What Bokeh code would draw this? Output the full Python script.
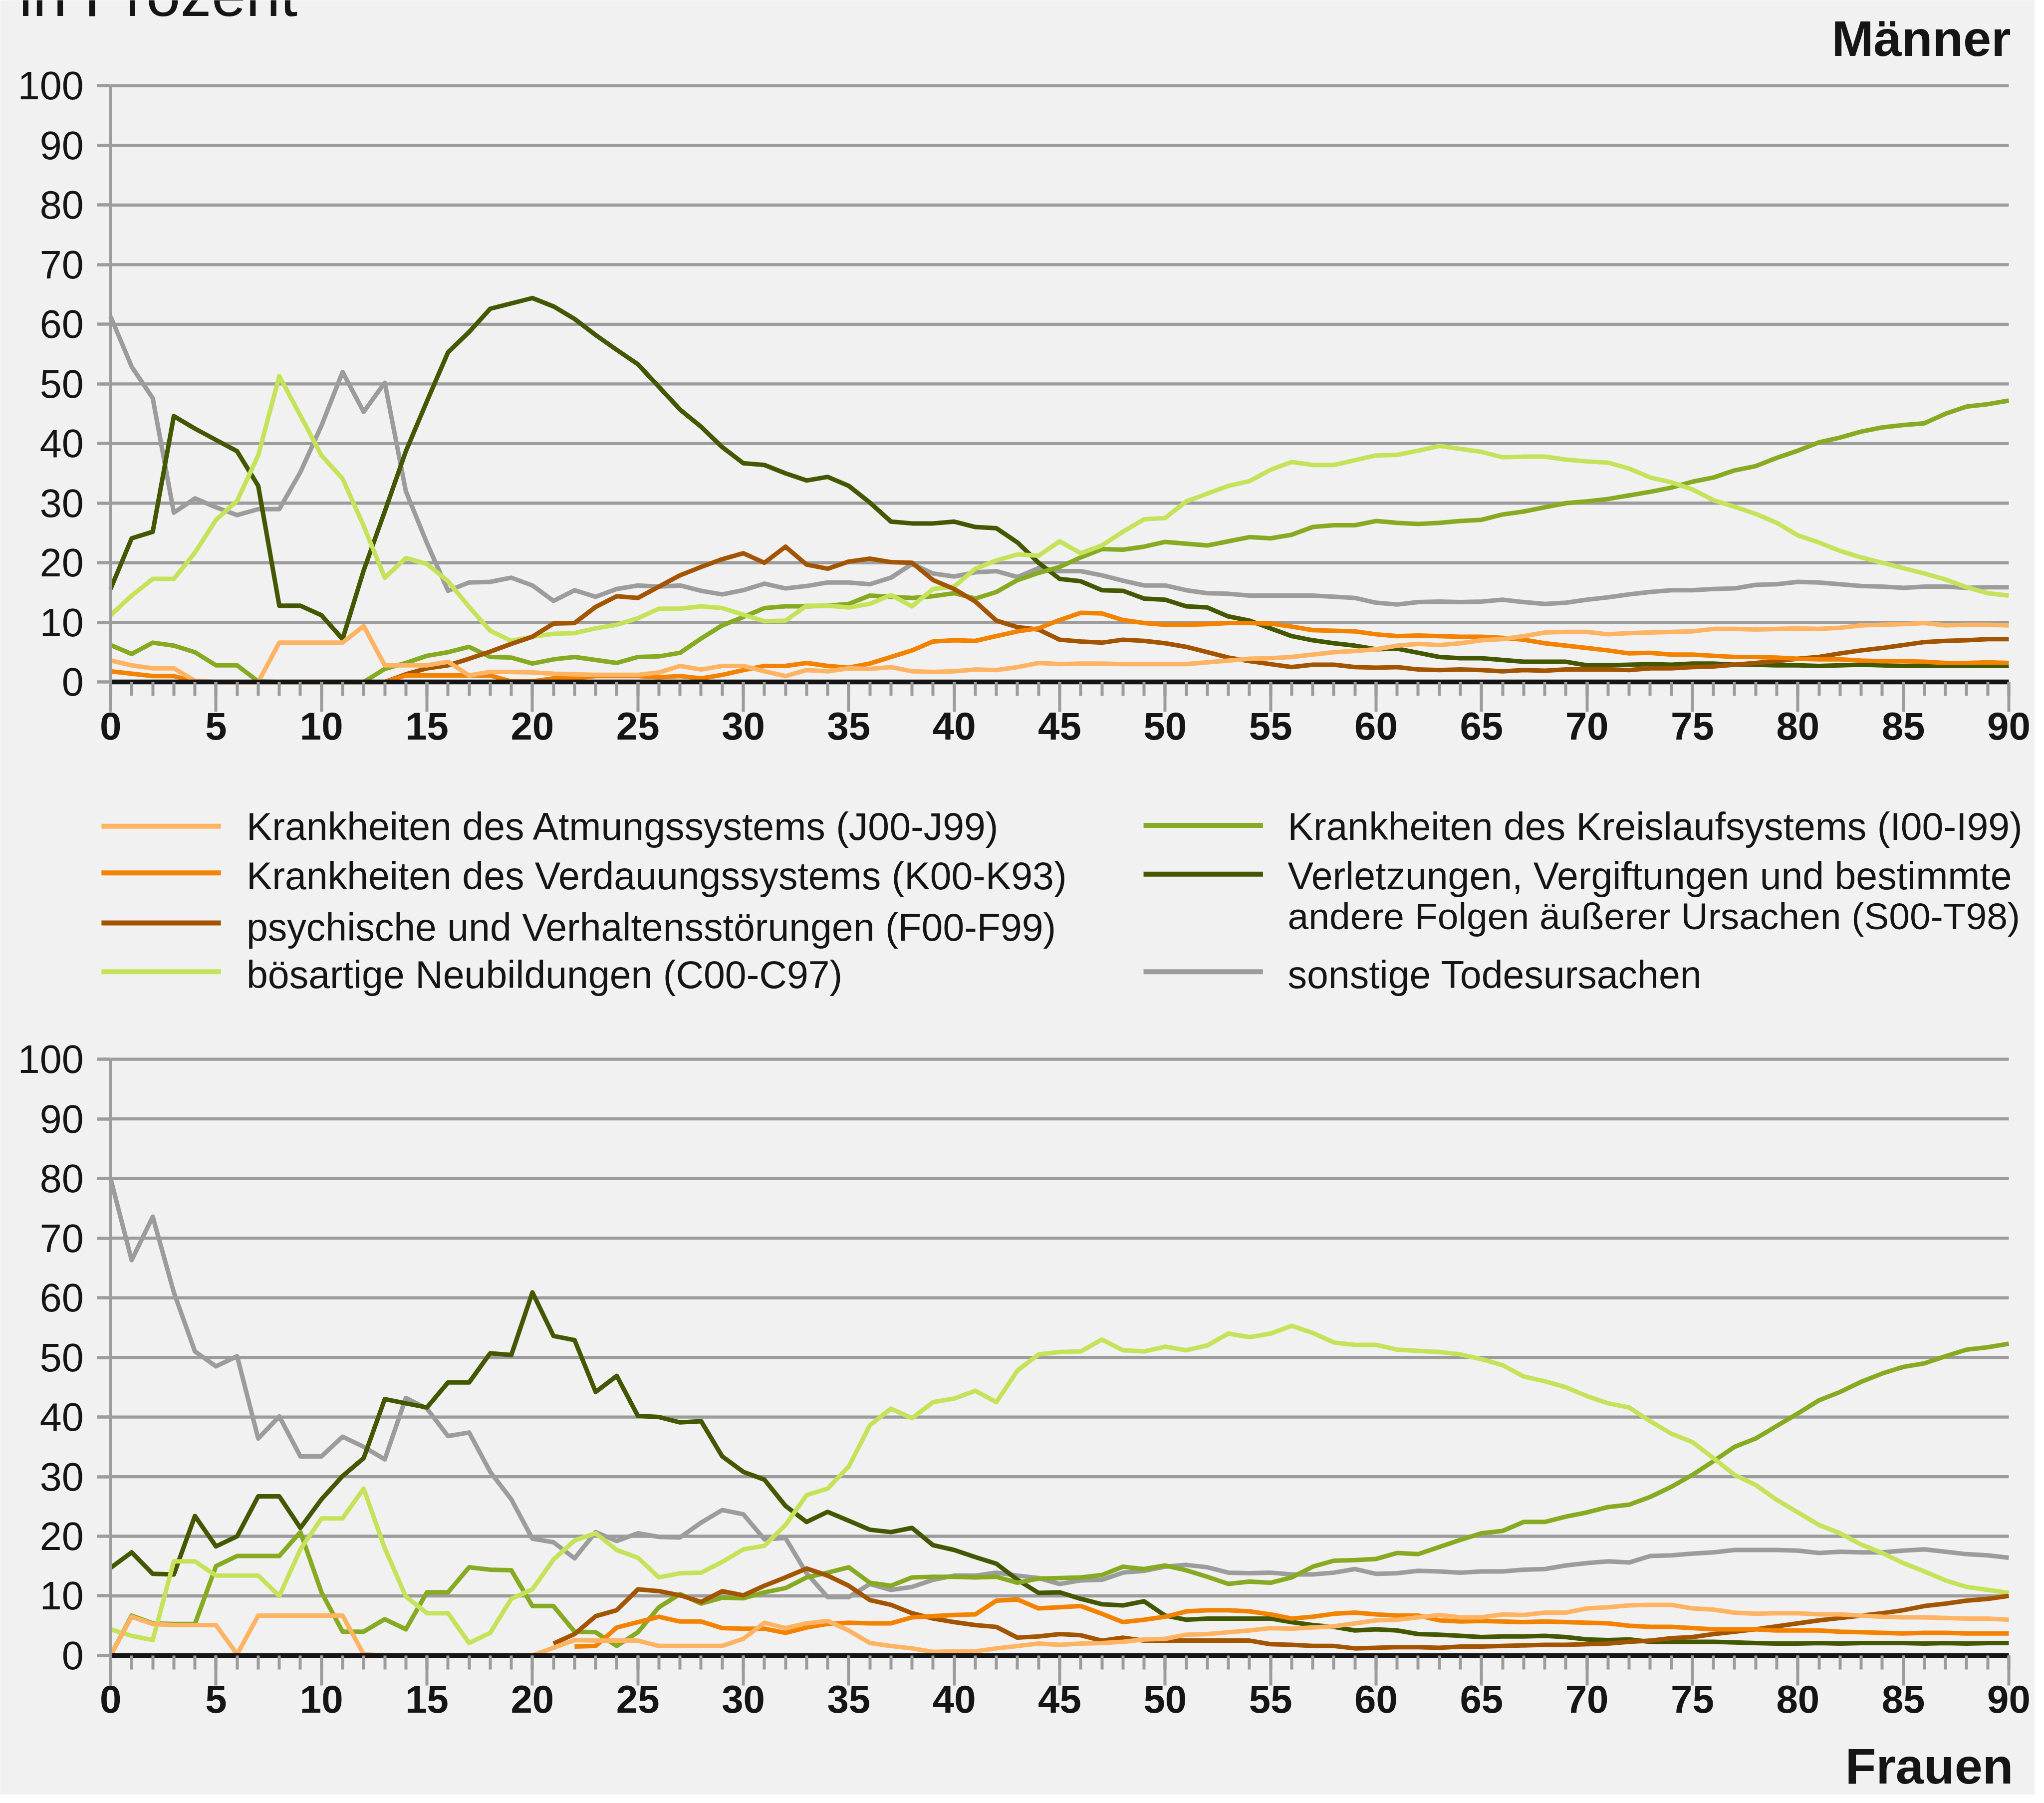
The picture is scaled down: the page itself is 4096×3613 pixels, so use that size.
from bokeh.plotting import figure
from bokeh.models import Range1d, SingleIntervalTicker, LinearAxis, Label
from bokeh.embed import file_html
from bokeh.resources import INLINE
from bokeh.core.properties import value

N = float("nan")
AGES = list(range(0, 91))
Y_GRID = list(range(0, 101, 10))

SERIES_NAMES = [
    "Krankheiten des Atmungssystems (J00-J99)",
    "Krankheiten des Verdauungssystems (K00-K93)",
    "psychische und Verhaltensstörungen (F00-F99)",
    "bösartige Neubildungen (C00-C97)",
    "Krankheiten des Kreislaufsystems (I00-I99)",
    "Verletzungen, Vergiftungen und bestimmte\nandere Folgen äußerer Ursachen (S00-T98)",
    "sonstige Todesursachen",
]
SERIES_COLORS = ["#ffb464", "#f28200", "#a35400", "#c5e35a", "#86ab22", "#425700", "#9c9c9c"]
PANEL_TITLES = ["Männer", "Frauen"]
Y_TITLE = "in Prozent"

# ---------------- Männer ----------------
M_ATMUNG = [3.6, 2.8, 2.3, 2.3, 0.2, 0.0, 0.0, 0.0, 6.6, 6.6,
            6.6, 6.6, 9.4, 2.8, 2.8, 2.8, 3.4, 1.1, 1.7, 1.7,
            1.6, 1.4, 1.3, 1.2, 1.2, 1.2, 1.6, 2.7, 2.1, 2.7,
            2.7, 1.8, 1.0, 2.0, 1.8, 2.3, 2.2, 2.5, 1.8, 1.7,
            1.8, 2.1, 2.0, 2.5, 3.2, 3.0, 3.1, 3.1, 3.0, 3.0,
            3.0, 3.0, 3.3, 3.6, 3.9, 4.0, 4.2, 4.6, 5.0, 5.2,
            5.5, 6.1, 6.4, 6.2, 6.5, 7.0, 7.2, 7.7, 8.3, 8.4,
            8.4, 8.0, 8.2, 8.3, 8.4, 8.5, 8.9, 8.9, 8.8, 8.9,
            9.0, 8.9, 9.1, 9.5, 9.6, 9.7, 9.9, 9.5, 9.6, 9.6,
            9.5]
M_VERDAUUNG = [1.8, 1.4, 1.0, 1.0, 0.1, 0.0, 0.0, 0.0, 0.0, 0.0,
               0.0, 0.0, 0.0, 0.0, 1.1, 1.1, 1.1, 1.1, 1.1, 0.1,
               0.1, 0.6, 0.6, 1.0, 1.0, 1.0, 0.8, 1.0, 0.6, 1.2,
               2.0, 2.7, 2.7, 3.2, 2.7, 2.4, 3.1, 4.2, 5.3, 6.8,
               7.0, 6.9, 7.7, 8.5, 9.0, 10.4, 11.6, 11.5, 10.4, 9.9,
               9.6, 9.6, 9.7, 9.9, 9.9, 9.8, 9.3, 8.7, 8.6, 8.5,
               8.0, 7.7, 7.8, 7.7, 7.6, 7.6, 7.4, 7.1, 6.5, 6.1,
               5.7, 5.3, 4.8, 4.9, 4.6, 4.6, 4.4, 4.2, 4.2, 4.1,
               3.9, 3.8, 3.8, 3.6, 3.5, 3.5, 3.4, 3.2, 3.2, 3.3,
               3.2]
M_PSYCH = [N, N, N, N, N, N, N, N, N, N,
           N, N, N, 0.0, 1.3, 2.3, 2.8, 3.9, 5.1, 6.4,
           7.6, 9.8, 9.9, 12.6, 14.4, 14.1, 16.0, 17.9, 19.3, 20.6,
           21.6, 20.0, 22.7, 19.7, 19.0, 20.2, 20.7, 20.1, 20.0, 17.1,
           15.6, 13.5, 10.3, 9.2, 8.8, 7.1, 6.8, 6.6, 7.1, 6.9,
           6.5, 5.9, 5.0, 4.1, 3.5, 3.0, 2.5, 2.9, 2.9, 2.5,
           2.4, 2.5, 2.1, 2.0, 2.1, 2.0, 1.8, 2.0, 1.9, 2.1,
           2.1, 2.1, 2.0, 2.3, 2.3, 2.5, 2.6, 2.9, 3.2, 3.5,
           3.9, 4.2, 4.8, 5.3, 5.7, 6.2, 6.7, 6.9, 7.0, 7.2,
           7.2]
M_KREBS = [11.2, 14.5, 17.3, 17.3, 21.7, 27.2, 30.4, 38.0, 51.3, 44.7,
           38.0, 34.1, 26.2, 17.5, 20.8, 19.8, 16.9, 12.6, 8.6, 6.9,
           7.6, 8.1, 8.2, 9.0, 9.6, 10.7, 12.3, 12.3, 12.7, 12.4,
           11.3, 10.2, 10.3, 12.8, 12.8, 12.5, 13.1, 14.6, 12.7, 15.6,
           16.0, 19.0, 20.4, 21.4, 21.2, 23.6, 21.6, 22.9, 25.2, 27.3,
           27.5, 30.3, 31.6, 32.9, 33.7, 35.6, 36.9, 36.4, 36.4, 37.2,
           38.0, 38.1, 38.8, 39.6, 39.1, 38.6, 37.7, 37.8, 37.8, 37.3,
           37.0, 36.8, 35.8, 34.3, 33.5, 32.3, 30.5, 29.4, 28.2, 26.7,
           24.6, 23.4, 22.0, 20.9, 20.0, 19.1, 18.2, 17.2, 15.9, 14.9,
           14.5]
M_KREISLAUF = [6.2, 4.7, 6.6, 6.1, 5.0, 2.8, 2.8, 0.1, 0.0, 0.0,
               0.0, 0.0, 0.0, 2.2, 3.2, 4.4, 5.0, 5.9, 4.2, 4.1,
               3.1, 3.8, 4.2, 3.7, 3.2, 4.2, 4.3, 4.9, 7.3, 9.5,
               10.9, 12.4, 12.7, 12.7, 12.8, 13.1, 14.5, 14.3, 14.1, 14.4,
               14.9, 14.0, 15.1, 17.1, 18.3, 19.3, 20.9, 22.3, 22.2, 22.7,
               23.5, 23.2, 22.9, 23.6, 24.3, 24.1, 24.7, 26.0, 26.3, 26.3,
               27.0, 26.7, 26.5, 26.7, 27.0, 27.2, 28.1, 28.6, 29.3, 30.0,
               30.3, 30.7, 31.3, 31.9, 32.6, 33.6, 34.3, 35.5, 36.2, 37.6,
               38.8, 40.2, 41.0, 42.0, 42.7, 43.1, 43.4, 45.0, 46.2, 46.6,
               47.2]
M_VERLETZ = [15.6, 24.1, 25.2, 44.6, 42.5, 40.6, 38.7, 32.9, 12.8, 12.8,
             11.2, 7.2, 18.7, 28.6, 38.7, 47.1, 55.3, 58.7, 62.6, 63.5,
             64.4, 63.0, 60.9, 58.2, 55.7, 53.3, 49.5, 45.7, 42.8, 39.4,
             36.7, 36.4, 35.0, 33.8, 34.4, 32.9, 30.1, 26.9, 26.6, 26.6,
             26.9, 26.0, 25.8, 23.4, 20.0, 17.3, 16.9, 15.4, 15.3, 14.0,
             13.8, 12.7, 12.5, 11.0, 10.3, 9.0, 7.7, 7.0, 6.5, 6.1,
             5.5, 5.6, 4.9, 4.2, 4.0, 4.0, 3.7, 3.4, 3.4, 3.4,
             2.8, 2.8, 2.9, 3.0, 2.9, 3.1, 3.1, 2.9, 2.9, 2.8,
             2.8, 2.7, 2.8, 2.9, 2.8, 2.7, 2.7, 2.7, 2.7, 2.7,
             2.7]
M_SONST = [61.3, 52.9, 47.6, 28.4, 30.8, 29.3, 28.0, 29.0, 29.0, 35.2,
           43.0, 52.0, 45.3, 50.2, 32.0, 23.3, 15.3, 16.7, 16.8, 17.5,
           16.2, 13.6, 15.4, 14.3, 15.6, 16.2, 16.0, 16.2, 15.3, 14.7,
           15.4, 16.5, 15.7, 16.1, 16.7, 16.7, 16.4, 17.5, 19.8, 18.2,
           17.7, 18.4, 18.6, 17.6, 19.1, 18.6, 18.6, 17.9, 17.0, 16.2,
           16.2, 15.4, 14.9, 14.8, 14.5, 14.5, 14.5, 14.5, 14.3, 14.1,
           13.3, 13.0, 13.4, 13.5, 13.4, 13.5, 13.8, 13.4, 13.1, 13.3,
           13.8, 14.2, 14.7, 15.1, 15.4, 15.4, 15.6, 15.7, 16.3, 16.4,
           16.8, 16.7, 16.4, 16.1, 16.0, 15.8, 16.0, 16.0, 15.8, 15.9,
           15.9]

# ---------------- Frauen ----------------
F_ATMUNG = [0.0, 6.5, 5.3, 5.1, 5.1, 5.1, 0.2, 6.7, 6.7, 6.7,
            6.7, 6.7, 0.2, 0.0, 0.0, 0.0, 0.0, 0.0, 0.0, 0.0,
            0.0, 1.3, 2.6, 2.5, 2.5, 2.5, 1.6, 1.6, 1.6, 1.6,
            2.8, 5.5, 4.6, 5.4, 5.8, 4.2, 2.1, 1.6, 1.2, 0.6,
            0.7, 0.7, 1.2, 1.6, 2.0, 1.8, 2.0, 2.1, 2.3, 2.7,
            2.8, 3.5, 3.6, 3.9, 4.2, 4.6, 4.5, 4.7, 4.9, 5.4,
            5.9, 6.0, 6.4, 6.8, 6.4, 6.4, 6.9, 6.8, 7.2, 7.2,
            7.9, 8.1, 8.4, 8.5, 8.5, 7.9, 7.7, 7.2, 7.0, 7.1,
            7.1, 6.9, 6.9, 6.7, 6.5, 6.4, 6.4, 6.3, 6.2, 6.2,
            6.0]
F_VERDAUUNG = [N, N, N, N, N, N, N, N, N, N,
               N, N, N, N, N, N, N, N, N, N,
               N, N, 1.5, 1.6, 4.7, 5.6, 6.5, 5.7, 5.7, 4.6,
               4.5, 4.5, 3.8, 4.7, 5.3, 5.5, 5.4, 5.4, 6.4, 6.6,
               6.8, 6.9, 9.2, 9.4, 7.9, 8.1, 8.3, 7.0, 5.6, 6.0,
               6.5, 7.4, 7.6, 7.6, 7.4, 6.9, 6.2, 6.5, 7.0, 7.2,
               6.9, 6.7, 6.7, 5.9, 5.7, 5.8, 5.7, 5.6, 5.7, 5.6,
               5.5, 5.4, 5.0, 4.8, 4.8, 4.6, 4.4, 4.4, 4.4, 4.2,
               4.2, 4.2, 4.0, 3.9, 3.8, 3.7, 3.8, 3.8, 3.7, 3.7,
               3.7]
F_PSYCH = [N, N, N, N, N, N, N, N, N, N,
           N, N, N, N, N, N, N, N, N, N,
           N, 2.0, 3.6, 6.6, 7.6, 11.1, 10.8, 10.1, 9.0, 10.8,
           10.1, 11.7, 13.1, 14.6, 13.4, 11.7, 9.3, 8.5, 7.1, 6.2,
           5.6, 5.1, 4.8, 3.0, 3.2, 3.6, 3.4, 2.5, 3.0, 2.5,
           2.5, 2.5, 2.5, 2.5, 2.5, 1.9, 1.8, 1.6, 1.6, 1.2,
           1.3, 1.4, 1.4, 1.3, 1.5, 1.5, 1.6, 1.7, 1.8, 1.8,
           1.9, 2.0, 2.3, 2.5, 2.9, 3.1, 3.6, 4.0, 4.4, 4.9,
           5.4, 5.9, 6.3, 6.7, 7.1, 7.6, 8.3, 8.7, 9.2, 9.5,
           10.0]
F_KREBS = [4.4, 3.3, 2.6, 15.8, 15.8, 13.4, 13.4, 13.4, 10.0, 17.8,
           23.0, 23.0, 28.0, 18.0, 9.9, 7.1, 7.1, 2.1, 3.8, 9.5,
           11.1, 16.1, 19.3, 20.5, 17.7, 16.4, 13.1, 13.8, 13.9, 15.7,
           17.8, 18.4, 21.9, 26.9, 28.0, 31.7, 38.6, 41.4, 39.8, 42.5,
           43.1, 44.4, 42.5, 47.8, 50.5, 50.9, 51.0, 53.0, 51.2, 51.0,
           51.8, 51.2, 52.0, 54.0, 53.4, 54.0, 55.3, 54.1, 52.5, 52.1,
           52.1, 51.3, 51.1, 50.9, 50.5, 49.7, 48.7, 46.8, 46.0, 45.0,
           43.5, 42.3, 41.6, 39.3, 37.2, 35.8, 33.1, 30.3, 28.6, 26.1,
           24.0, 21.9, 20.5, 18.6, 17.2, 15.5, 14.1, 12.6, 11.5, 11.0,
           10.5]
F_KREISLAUF = [0.0, 6.7, 5.4, 5.3, 5.3, 15.0, 16.7, 16.7, 16.7, 20.7,
               10.6, 4.0, 4.0, 6.1, 4.4, 10.6, 10.6, 14.8, 14.4, 14.3,
               8.3, 8.3, 4.0, 3.9, 1.6, 3.9, 8.1, 10.3, 8.7, 9.7,
               9.6, 10.6, 11.3, 13.1, 13.9, 14.8, 12.2, 11.7, 13.1, 13.2,
               13.2, 13.1, 13.2, 12.2, 12.9, 13.0, 13.1, 13.5, 14.9, 14.5,
               15.1, 14.3, 13.2, 12.0, 12.4, 12.2, 13.1, 14.9, 15.9, 16.0,
               16.2, 17.2, 17.0, 18.2, 19.4, 20.5, 20.9, 22.4, 22.4, 23.3,
               24.0, 24.9, 25.3, 26.6, 28.3, 30.3, 32.6, 35.0, 36.4, 38.5,
               40.6, 42.8, 44.2, 45.9, 47.3, 48.4, 49.0, 50.2, 51.3, 51.7,
               52.3]
F_VERLETZ = [14.7, 17.3, 13.7, 13.6, 23.4, 18.3, 20.0, 26.7, 26.7, 21.4,
             26.2, 30.1, 33.1, 43.0, 42.3, 41.6, 45.8, 45.8, 50.7, 50.4,
             60.9, 53.6, 52.9, 44.2, 46.9, 40.2, 40.0, 39.1, 39.3, 33.4,
             30.8, 29.5, 25.1, 22.4, 24.1, 22.6, 21.1, 20.7, 21.4, 18.5,
             17.7, 16.5, 15.4, 12.7, 10.5, 10.6, 9.5, 8.6, 8.4, 9.1,
             6.7, 6.0, 6.2, 6.2, 6.2, 6.2, 5.6, 5.1, 4.8, 4.2,
             4.4, 4.2, 3.6, 3.5, 3.3, 3.1, 3.2, 3.2, 3.3, 3.1,
             2.7, 2.6, 2.7, 2.3, 2.3, 2.3, 2.3, 2.2, 2.1, 2.0,
             2.0, 2.1, 2.0, 2.1, 2.1, 2.1, 2.0, 2.1, 2.0, 2.1,
             2.1]
F_SONST = [80.0, 66.3, 73.6, 60.9, 51.0, 48.5, 50.2, 36.4, 40.1, 33.4,
           33.4, 36.7, 35.0, 32.9, 43.2, 41.4, 36.8, 37.4, 30.8, 26.2,
           19.6, 19.0, 16.3, 20.7, 19.2, 20.5, 19.9, 19.8, 22.3, 24.4,
           23.7, 19.5, 19.7, 13.8, 9.8, 9.8, 12.0, 11.0, 11.5, 12.7,
           13.4, 13.4, 13.9, 13.4, 13.0, 12.0, 12.6, 12.7, 13.9, 14.2,
           14.9, 15.2, 14.8, 13.9, 13.8, 13.9, 13.6, 13.6, 13.9, 14.5,
           13.7, 13.8, 14.2, 14.1, 13.9, 14.1, 14.1, 14.4, 14.5, 15.1,
           15.5, 15.8, 15.6, 16.7, 16.8, 17.1, 17.3, 17.7, 17.7, 17.7,
           17.6, 17.2, 17.4, 17.3, 17.3, 17.6, 17.8, 17.4, 17.0, 16.8,
           16.4]

MEN = [M_ATMUNG, M_VERDAUUNG, M_PSYCH, M_KREBS, M_KREISLAUF, M_VERLETZ, M_SONST]
WOMEN = [F_ATMUNG, F_VERDAUUNG, F_PSYCH, F_KREBS, F_KREISLAUF, F_VERLETZ, F_SONST]

# ---------------- layout (reference pixels) / style ----------------
S = 0.828
W = round(4924 * S)
H = round(4343 * S)
REF_W = W / S
REF_H = H / S
X_AGE0, X_AGE90 = 267, 4861
PPA = (X_AGE90 - X_AGE0) / 90.0
TOP_Y0, TOP_Y100 = 1650, 207
BOT_Y0, BOT_Y100 = 4006, 2563
PPU_T = (TOP_Y0 - TOP_Y100) / 100.0
PPU_B = (BOT_Y0 - BOT_Y100) / 100.0
MID = 0.3465   # baseline offset (in em) of a "middle"-anchored line of text

FONT = "Liberation Sans"
BG = "#f1f1f1"
GRID = "#9c9c9c"
TXT = "#151515"
LINE_W = 9

p = figure(width=W, height=H,
           x_range=Range1d(-X_AGE0 / PPA, (REF_W - X_AGE0) / PPA),
           y_range=Range1d((TOP_Y0 - REF_H) / PPU_T, TOP_Y0 / PPU_T),
           output_backend="svg", toolbar_location=None, min_border=0,
           x_axis_location=None, y_axis_location=None,
           background_fill_color=BG, border_fill_color=BG, outline_line_color=None)
p.extra_y_ranges = {"f": Range1d((BOT_Y0 - REF_H) / PPU_B, BOT_Y0 / PPU_B),
                    "px": Range1d(REF_H, 0)}
p.extra_x_ranges = {"px": Range1d(0, REF_W)}
for g in p.grid:
    g.visible = False


def panel(yname, series):
    p.segment(x0=[AGES[0]] * len(Y_GRID), y0=Y_GRID, x1=[AGES[-1]] * len(Y_GRID), y1=Y_GRID,
              y_range_name=yname, line_color=GRID, line_width=6.3)
    for vals, color in reversed(list(zip(series, SERIES_COLORS))):
        p.line(AGES, vals, y_range_name=yname, line_color=color, line_width=LINE_W,
               line_join="round")

    ya = LinearAxis(y_range_name=yname, fixed_location=0, bounds=(0, 100),
                    ticker=SingleIntervalTicker(interval=10, num_minor_ticks=0))
    ya.axis_line_color = GRID
    ya.axis_line_width = 5.5
    ya.major_tick_line_color = GRID
    ya.major_tick_line_width = 6.3
    ya.major_tick_in = 0
    ya.major_tick_out = 27
    ya.minor_tick_line_color = None
    ya.major_label_text_font = FONT
    ya.major_label_text_font_size = "79px"
    ya.major_label_text_color = TXT
    ya.major_label_standoff = 27
    p.add_layout(ya, "left")

    xa = LinearAxis(y_range_name=yname, fixed_location=0, bounds=(0, 90),
                    ticker=SingleIntervalTicker(interval=5, num_minor_ticks=5))
    xa.axis_line_color = TXT
    xa.axis_line_width = 9.5
    xa.major_tick_line_color = GRID
    xa.major_tick_line_width = 6
    xa.major_tick_in = 0
    xa.major_tick_out = 60
    xa.minor_tick_line_color = GRID
    xa.minor_tick_line_width = 6
    xa.minor_tick_in = 0
    xa.minor_tick_out = 28
    xa.major_label_text_font = FONT
    xa.major_label_text_font_style = "bold"
    xa.major_label_text_font_size = "78px"
    xa.major_label_text_color = TXT
    xa.major_label_standoff = 1
    p.add_layout(xa, "below")


panel("default", MEN)
panel("f", WOMEN)


def anchor_y(baseline, size_px):
    # text is anchored at its middle; convert a baseline position (reference px)
    return baseline - MID * size_px / S


def ptext(xs, baselines, txt, size_px, align="left", bold=False):
    p.text(x=xs, y=[anchor_y(b, size_px) for b in baselines], text=txt,
           x_range_name="px", y_range_name="px",
           text_font=value(FONT), text_font_size=value("%dpx" % size_px), text_color=TXT,
           text_font_style=value("bold" if bold else "normal"),
           text_align=value(align), text_baseline=value("middle"))


# axis title (its upper part lies above the page, as in the original)
p.add_layout(Label(x=45, y=anchor_y(38, 124), x_range_name="px", y_range_name="px",
                   text=Y_TITLE, text_font=FONT, text_font_size="124px", text_color=TXT,
                   text_align="left", text_baseline="middle"))
# panel titles
ptext([4866], [135], [PANEL_TITLES[0]], 101, align="right", bold=True)
ptext([4872], [4316], [PANEL_TITLES[1]], 101, align="right", bold=True)

# legend
LEG_FONT = 77
LEG_FONT_LONG = 75   # the long second line of the two-line entry
LEG_COLS = [(245, 534, 596), (2767, 3056, 3116)]
LEG_SLOTS = [(0, 1999, [2032]), (0, 2112, [2151]), (0, 2233, [2275]), (0, 2351, [2390]),
             (1, 1997, [2032]), (1, 2115, [2151, 2248]), (1, 2351, [2390])]
for name, color, (col, sy, baselines) in zip(SERIES_NAMES, SERIES_COLORS, LEG_SLOTS):
    x0, x1, tx = LEG_COLS[col]
    p.segment(x0=[x0], y0=[sy], x1=[x1], y1=[sy], x_range_name="px", y_range_name="px",
              line_color=color, line_width=10)
    for k, part in enumerate(name.split("\n")):
        size = LEG_FONT if k == 0 else LEG_FONT_LONG
        ptext([tx], [baselines[k]], [part], size)

open("out.html", "w", encoding="utf-8").write(file_html(p, INLINE))
